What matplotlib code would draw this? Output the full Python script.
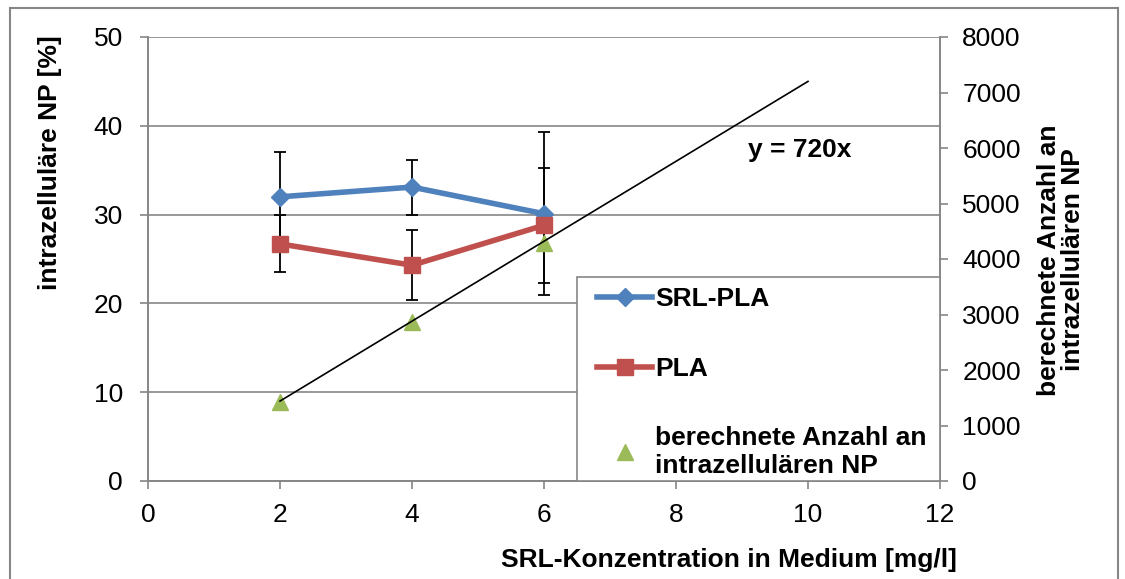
import matplotlib.pyplot as plt
from matplotlib.patches import Rectangle

# SRL concentration in medium [mg/l]
conc = [2, 4, 6]

# intracellular NP [%] with error bars
srl_pla = [32.0, 33.1, 30.1]
srl_pla_err = [5.0, 3.1, 9.2]
pla = [26.7, 24.3, 28.8]
pla_err = [3.2, 3.95, 6.5]

# calculated number of intracellular NP (right axis)
anzahl = [1430, 2870, 4290]
slope = 720
trend_x = [2, 10]

plt.rcParams['font.family'] = ['Liberation Sans', 'DejaVu Sans']
plt.rcParams['font.size'] = 19

grey = '#868686'
blue = '#4F81BD'
red = '#C0504D'
green = '#9BBB59'

fig = plt.figure(figsize=(11.25, 5.79), dpi=100)
ax = fig.add_axes([148 / 1125, 1 - 481 / 579, 792 / 1125, 444 / 579])
ax2 = ax.twinx()

# left axis: percentages
eb1 = ax.errorbar(conc, srl_pla, yerr=srl_pla_err, color=blue, lw=4, marker='D', ms=9,
                  ecolor='black', elinewidth=1.3, capsize=4.5, capthick=1.3, zorder=3)
eb2 = ax.errorbar(conc, pla, yerr=pla_err, color=red, lw=4, marker='s', ms=11,
                  ecolor='black', elinewidth=1.3, capsize=4.5, capthick=1.3, zorder=3)
ax.set_xlim(0, 12)
ax.set_ylim(0, 50)
ax.set_xticks(range(0, 13, 2))
ax.set_yticks(range(0, 51, 10))
ax.grid(axis='y', color=grey, lw=1.2)
ax.set_axisbelow(True)
ax.tick_params(axis='y', direction='out', length=6, width=1.2, color=grey, pad=12)
ax.tick_params(axis='x', direction='out', length=6, width=1.2, color=grey, pad=10)

# right axis: counts plus linear trend
tri, = ax2.plot(conc, anzahl, ls='none', marker='^', ms=11, color=green, zorder=2)
ax2.plot(trend_x, [slope * x for x in trend_x], color='black', lw=1.2, zorder=4)
ax2.set_ylim(0, 8000)
ax2.set_yticks(range(0, 8001, 1000))
ax2.tick_params(axis='y', direction='out', length=6, width=1.2, color=grey, pad=10)
ax2.text(9.09, 37.3 * 160, f'y = {slope}x', fontweight='bold', va='center', ha='left')

for a in (ax, ax2):
    a.spines['top'].set_visible(False)
    for s in ('left', 'right', 'bottom'):
        a.spines[s].set_color(grey)
        a.spines[s].set_linewidth(1.2)

# legend box drawn separately so the padding can be set freely
ax2.add_patch(Rectangle((0.5417, 0), 0.4583, 0.4595, transform=ax2.transAxes,
                        fc='white', ec=grey, lw=1.2, zorder=9, clip_on=False))
leg = ax2.legend([eb1[0], eb2[0], tri],
                 ['SRL-PLA', 'PLA', 'berechnete Anzahl an\nintrazellulären NP'],
                 loc='upper left', bbox_to_anchor=(0.567, 0.436),
                 borderaxespad=0, frameon=False, borderpad=0,
                 prop={'weight': 'bold', 'size': 19}, labelspacing=1.72,
                 handlelength=2.1, handletextpad=0.1)
leg.set_zorder(10)

fig.text(50 / 1125, 1 - 163 / 579, 'intrazelluläre NP [%]', rotation=90,
         fontweight='bold', ha='center', va='center')
fig.text(1061 / 1125, 1 - 260 / 579, 'berechnete Anzahl an\nintrazellulären NP', rotation=90,
         fontweight='bold', ha='center', va='center', multialignment='center', linespacing=1.05)
fig.text(729 / 1125, 1 - 560 / 579, 'SRL-Konzentration in Medium [mg/l]',
         fontweight='bold', ha='center', va='center')

# outer chart border
fig.patches.append(Rectangle((10 / 1125, -0.05), 1108 / 1125, 1.05 - 8 / 579,
                             transform=fig.transFigure, fill=False, ec=grey, lw=1.5))

fig.savefig('out.png', dpi=100)
